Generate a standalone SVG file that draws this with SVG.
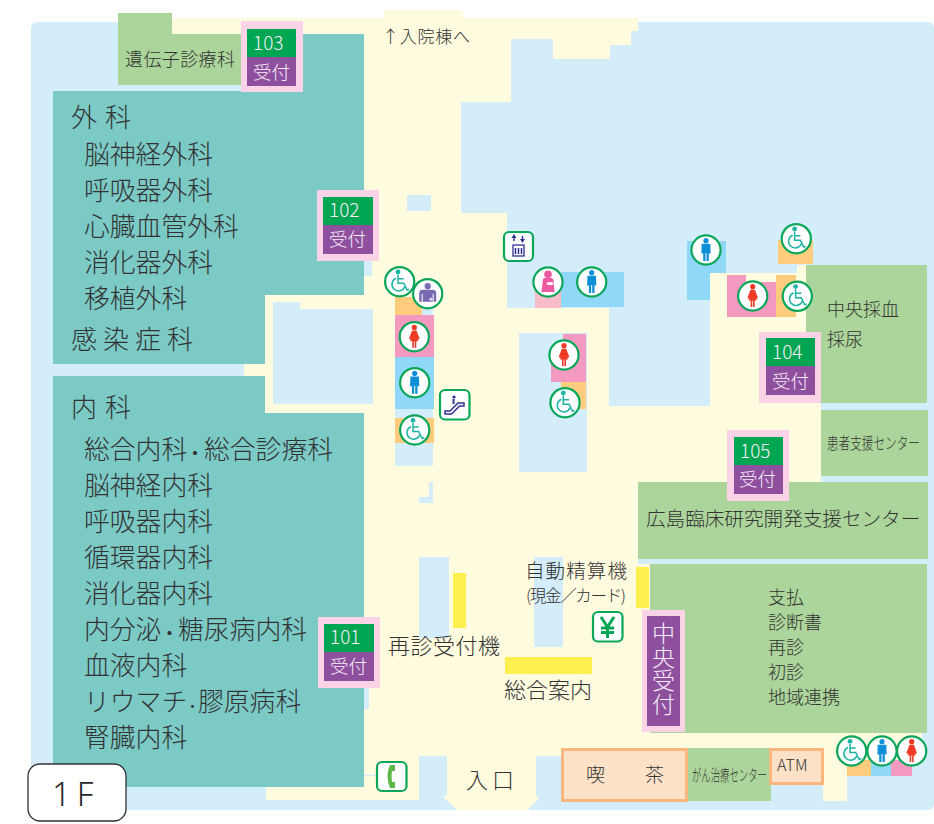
<svg xmlns="http://www.w3.org/2000/svg" width="934" height="824" viewBox="0 0 934 824">
<style>
text{font-family:"Noto Sans CJK JP","Noto Sans",sans-serif;fill:#333;font-weight:300}
.t26{font-size:25.8px}.t20{font-size:19.6px}.t18{font-size:18px}.t22{font-size:22px}
.w{fill:#f6eef8;font-size:18.5px}
.n{font-size:19px}
.d{font-weight:700;font-size:16px}
.p{fill:#fad4e6}.g{fill:#00a651}.v{fill:#8e4f9f}
.b{fill:#d4edfb}.y{fill:#fffbdf}.tl{fill:#7bcac5}.gr{fill:#abd59a}.sy{fill:#fff04d}
.o{fill:#fdcc7d}.pk{fill:#f49ac1}.bl{fill:#8fd8f7}
.cafe{fill:#fde2c8;stroke:#f9b67f;stroke-width:3}
.ic{fill:#fff;stroke:#0aa65a;stroke-width:2.2}
</style>
<defs>
<g id="circ"><circle r="14.6" class="ic"/></g>
<g id="man"><use href="#circ"/><circle cy="-9.3" r="2.6" fill="#0f8fd8"/><path fill="#0f8fd8" d="M-4.3-6.3H4.300L4.600 3.500H2.800V11H.5V3H-.5V11H-2.800V3.500H-4.600Z"/></g>
<g id="woman"><use href="#circ"/><circle cy="-9.3" r="2.600" fill="#ee3a24"/><path fill="#ee3a24" d="M-2.200-6.300H2.200L5.300 2 3.600 3 2.300-.5 4 4.500H2V11H.4V4.500H-.4V11H-2V4.500H-4L-2.300-.5-3.600 3-5.300 2Z"/></g>
<g id="chair"><use href="#circ"/><circle cx="-1.700" cy="-9.700" r="2.400" fill="#1fb3a3"/><path fill="none" stroke="#1fb3a3" stroke-width="1.500" d="M-1.700-7V1.500H4L7.500 8.500 9.500 7.500M-1.700-3H4"/><path fill="none" stroke="#1fb3a3" stroke-width="1.500" d="M-3.700-3.500A6.600 6.600 0 1 0 5 5"/></g>
</defs>

<g id="floor">
<rect x="31" y="22" width="903" height="788" rx="6" class="b"/>
<path class="y" d="M172 18H384V10H463V18H638V31H631V45H610V59H553V39H511V102H461V213H507V308H609V406H710V273H797V265H806V403H821V482H638V559H638V564H650V733H922V762H847V801H823V748H561V756H536V795L539 798 528 810H457L443 797 447 795V756H419V800H266V787H364V413H265V295H364V34H172Z"/>
<path class="y" d="M244 364H265V376H244Z"/>
<rect x="273" y="309" width="100" height="95" class="b"/><rect x="273" y="302" width="27" height="8" class="b"/>
<rect x="407" y="195" width="24" height="16" class="b"/>
<rect x="364" y="260" width="8" height="16" class="b"/>
<rect x="364" y="685" width="5" height="24" class="b"/>
<rect x="364" y="775" width="16" height="1" class="b"/>
<rect x="230" y="364" width="14" height="12" class="b"/>
<rect x="519" y="333" width="68" height="139" class="b"/>
<path class="b" d="M429 482H433V503H419V497H429Z"/>
<rect x="419" y="557" width="30" height="81" class="b"/>
<rect x="534" y="557" width="29" height="90" class="b"/>
<rect x="395" y="409" width="38" height="57" class="b"/>
<rect x="422" y="308" width="11" height="8" class="b"/>
</g>

<g id="toilets">
<rect x="395" y="297" width="27" height="18" class="o"/>
<rect x="395" y="315" width="39" height="42" class="pk"/>
<rect x="395" y="357" width="39" height="52" class="bl"/>
<rect x="395" y="418" width="39" height="25" class="o"/>
<rect x="535" y="291" width="26" height="17" fill="#f7bcc8"/>
<rect x="561" y="272" width="63" height="35" class="bl"/>
<path class="pk" d="M563 334H586V382H551V360H563Z"/>
<rect x="561" y="382" width="25" height="27" class="o"/>
<path class="bl" d="M687 241H726V273H710V300H687Z"/>
<rect x="778" y="240" width="35" height="24" class="o"/>
<path class="pk" d="M727 275H746V282H777V317H727Z"/>
<rect x="776" y="275" width="20" height="42" class="o"/>
<rect x="847" y="760" width="24" height="16" class="o"/>
<rect x="871" y="760" width="20" height="16" class="bl"/>
<rect x="891" y="760" width="21" height="16" class="pk"/>
<rect x="453" y="573" width="13" height="55" class="sy"/>
<rect x="505" y="657" width="87" height="17" class="sy"/>
<rect x="636" y="567" width="13" height="41" class="sy"/>
</g>

<g id="gene"><path class="gr" d="M118 13H172V34H241V85H118Z"/><text x="125" y="66" class="t18" textLength="110">遺伝子診療科</text></g>

<g id="surgery"><path class="tl" d="M53 91H241V34H364V295H265V364H53Z"/>
<text x="71" y="127" style="font-size:26px" letter-spacing="8">外科</text>
<text x="84" y="164" class="t26">脳神経外科</text>
<text x="84" y="200" class="t26">呼吸器外科</text>
<text x="84" y="236" class="t26">心臓血管外科</text>
<text x="84" y="272" class="t26">消化器外科</text>
<text x="84" y="308" class="t26">移植外科</text>
<text x="71" y="349" style="font-size:26px" letter-spacing="6">感染症科</text></g>

<g id="internal"><path class="tl" d="M53 376H265V413H364V787H53Z"/>
<text x="71" y="417" style="font-size:26px" letter-spacing="8">内科</text>
<text x="84" y="459" class="t26">総合内科<tspan x="187" class="d">・</tspan><tspan x="204">総合診療科</tspan></text>
<text x="84" y="495" class="t26">脳神経内科</text>
<text x="84" y="531" class="t26">呼吸器内科</text>
<text x="84" y="567" class="t26">循環器内科</text>
<text x="84" y="603" class="t26">消化器内科</text>
<text x="84" y="639" class="t26">内分泌<tspan x="161.600" class="d">・</tspan><tspan x="178">糖尿病内科</tspan></text>
<text x="84" y="675" class="t26">血液内科</text>
<text x="84" y="711" class="t26">リウマチ<tspan x="187.200" class="d" style="font-size:10.500px;font-weight:900">・</tspan><tspan x="198">膠原病科</tspan></text>
<text x="84" y="747" class="t26">腎臓内科</text></g>

<g id="blood"><rect x="806" y="265" width="121" height="138" class="gr"/><text x="827" y="316" class="t18">中央採血</text><text x="827" y="346" class="t18">採尿</text></g>
<g id="support"><rect x="821" y="410" width="107" height="66" class="gr"/><text transform="translate(827 449) scale(.727 1)" style="font-size:16px">患者支援センター</text></g>
<g id="research"><rect x="638" y="482" width="290" height="77" class="gr"/><text x="646" y="526" class="t20">広島臨床研究開発支援センター</text></g>
<g id="central"><rect x="650" y="564" width="277" height="169" class="gr"/>
<text x="768" y="604" class="t18">支払</text><text x="768" y="629" class="t18">診断書</text><text x="768" y="654" class="t18">再診</text><text x="768" y="679" class="t18">初診</text><text x="768" y="704" class="t18">地域連携</text></g>
<g id="cancer"><rect x="687" y="748" width="84" height="53" class="gr"/><text transform="translate(692 781) scale(.586 1)" style="font-size:16px">がん治療センター</text></g>
<g id="cafe"><rect x="562.500" y="749.500" width="124" height="51" class="cafe"/><text x="586" y="782" style="font-size:19px">喫</text><text x="645" y="782" style="font-size:19px">茶</text></g>
<g id="atm"><rect x="770.500" y="749.500" width="52" height="34" class="cafe"/><text x="777" y="771" style="font-size:16px">ATM</text></g>

<g id="r103"><rect x="241" y="21" width="62" height="71" class="p"/><rect x="247" y="29" width="49" height="28" class="g"/><rect x="247" y="57" width="49" height="29" class="v"/><text x="253" y="50" class="w n">103</text><text x="253" y="79" class="w">受付</text></g>
<g id="r102"><rect x="317" y="190" width="62" height="71" class="p"/><rect x="323" y="197" width="50" height="28" class="g"/><rect x="323" y="225" width="50" height="29" class="v"/><text x="329" y="217" class="w n">102</text><text x="329" y="246" class="w">受付</text></g>
<g id="r101"><rect x="318" y="617" width="62" height="71" class="p"/><rect x="324" y="624" width="50" height="28" class="g"/><rect x="324" y="652" width="50" height="29" class="v"/><text x="330" y="644" class="w n">101</text><text x="330" y="673" class="w">受付</text></g>
<g id="r104"><rect x="759" y="332" width="62" height="71" class="p"/><rect x="766" y="338" width="49" height="28" class="g"/><rect x="766" y="366" width="49" height="29" class="v"/><text x="772" y="359" class="w n">104</text><text x="772" y="388" class="w">受付</text></g>
<g id="r105"><rect x="727" y="430" width="62" height="71" class="p"/><rect x="734" y="437" width="49" height="28" class="g"/><rect x="734" y="465" width="49" height="29" class="v"/><text x="740" y="458" class="w n">105</text><text x="739" y="486" class="w">受付</text></g>
<g id="rcentral"><rect x="642" y="610" width="43" height="122" class="p"/><rect x="647" y="616" width="33" height="110" class="v"/>
<text x="663.500" y="622" class="w" style="font-size:23px;writing-mode:vertical-rl;letter-spacing:.5px">中央受付</text></g>

<g id="labels">
<text x="382" y="43" style="font-size:17px" textLength="88">↑入院棟へ</text>
<text x="525" y="578" class="t20" textLength="102">自動精算機</text>
<text x="526" y="602" style="font-size:16.500px" textLength="100">(現金／カード)</text>
<text x="388" y="654" class="t22" textLength="112">再診受付機</text>
<text x="504" y="698" class="t22" textLength="88">総合案内</text>
<text x="466" y="788" class="t22" textLength="48">入口</text>
</g>

<g id="icons">
<use href="#chair" x="399.700" y="281.700"/>
<g id="wc-aid" transform="translate(427.700 293.700)"><use href="#circ"/><circle cy="-7.500" r="3.100" fill="#7a68b3"/><path fill="#7a68b3" d="M-8.500 8V-.5Q-8.500-4-5-4H5Q8.500-4 8.500-.5V8H6V0H5V8H-5V0H-6V8Z"/><path stroke="#fff" stroke-width="1" d="M1.500 5.500H5M3.250 3.700V7.200"/></g>
<use href="#woman" x="414.300" y="336.700"/>
<use href="#man" x="414.700" y="382.700"/>
<use href="#chair" x="414.700" y="430"/>
<g id="nursing" transform="translate(548 282)"><use href="#circ"/><circle cy="-7.800" r="3.800" fill="#ee5a9f"/><path fill="#ee5a9f" d="M-6.500 10-5-3Q-4-4.500 0-4.500 5-4.500 5.500-2L6.500 10Z"/><ellipse cx="2" cy="1.500" rx="3.500" ry="1.600" fill="#fff"/></g>
<use href="#man" x="591.700" y="282"/>
<use href="#woman" x="564" y="355"/>
<use href="#chair" x="565" y="402.700"/>
<use href="#man" x="706" y="250"/>
<use href="#chair" x="796.300" y="238.700"/>
<use href="#woman" x="752.700" y="296"/>
<use href="#chair" x="797.300" y="296.300"/>
<use href="#chair" x="851.700" y="751"/>
<use href="#man" x="882" y="751"/>
<use href="#woman" x="911.700" y="751"/>

<g id="escalator"><rect x="440" y="390" width="29.500" height="29.500" rx="5" class="ic"/><circle cx="454" cy="397" r="1.600" fill="#2e3192"/><path d="M445 411H450L458 403H464V406H459.500L451.500 414H445Z" fill="#fff" stroke="#2e3192" stroke-width="1.500"/><path d="M453.500 399V404" stroke="#2e3192" stroke-width="2"/></g>
<g id="elevator"><rect x="504" y="232" width="29" height="29" rx="5" class="ic"/><path fill="none" stroke="#2e3192" stroke-width="1.500" d="M514 241V236M522.500 236V241"/><path fill="#2e3192" d="M514 234 516.500 238H511.500ZM522.500 243 520 239H525Z"/><rect x="513" y="245" width="11" height="11" fill="none" stroke="#2e3192" stroke-width="1.300"/><path stroke="#2e3192" stroke-width="1.500" d="M515.500 248V254M518.500 248V254M521.500 248V254"/></g>
<g id="yen"><rect x="593" y="612" width="29.500" height="29.500" rx="5" class="ic"/><path fill="none" stroke="#00a651" stroke-width="3" d="M601 617 607.500 627 614 617M607.500 627V638M601 628H614M601 632.500H614"/></g>
<g id="phone"><rect x="377" y="762" width="29.500" height="29" rx="5" class="ic"/><path d="M390 765H395V771H392Q391 776 392 782H395V788H390Q385 776 390 765Z" fill="#5cb947"/></g>
</g>

<g id="floor-label"><rect x="28" y="764" width="98" height="57" rx="12" fill="#fff" stroke="#333" stroke-width="1.300"/><text x="52" y="806" style="font-size:33px;fill:#2a2a2a;font-family:'Noto Sans',sans-serif" letter-spacing="6">1F</text></g>
</svg>
